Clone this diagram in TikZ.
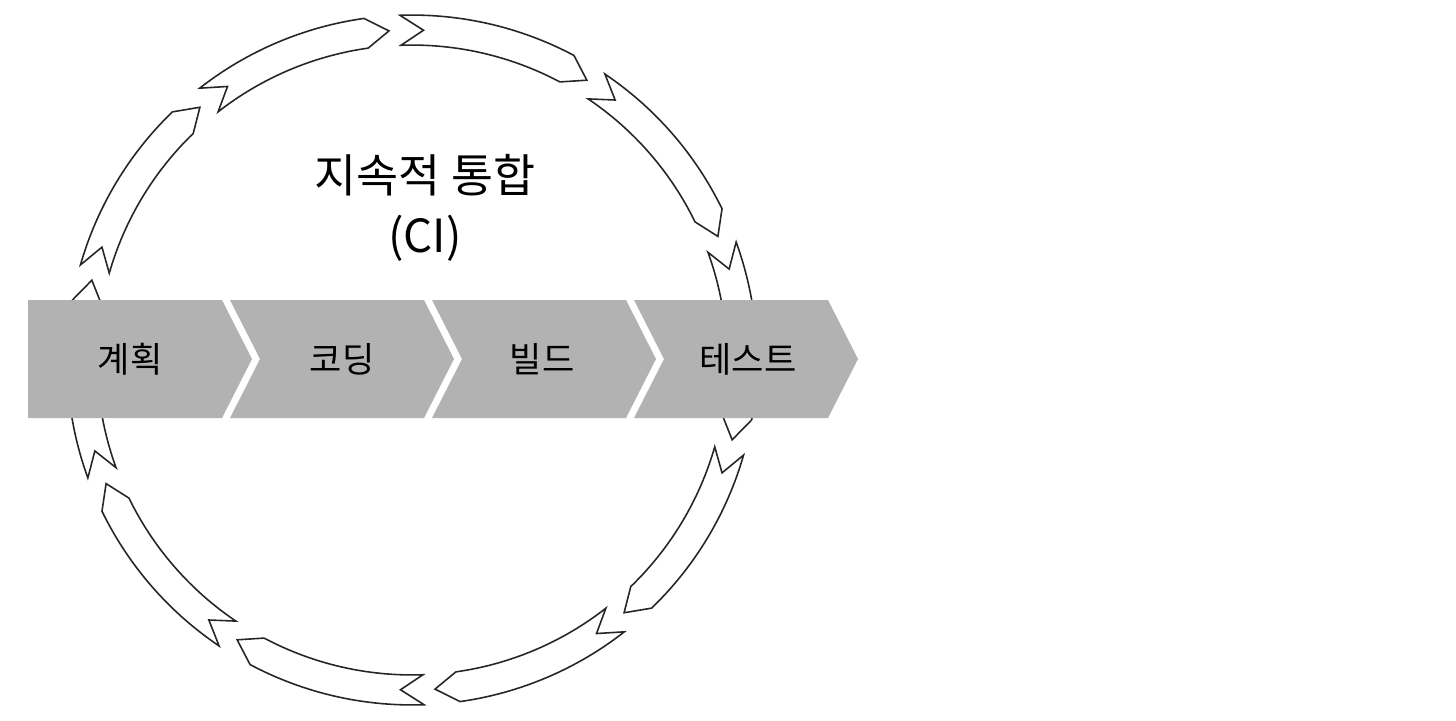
\documentclass[tikz,border=0pt]{standalone}
\usepackage{fontspec}
\setmainfont{Noto Sans CJK KR}
\tikzset{
  ring arrow/.style={draw=black!85, fill=white, line width=0.9pt, line join=miter},
  step shape/.style={fill=black!30, draw=none},
  step label/.style={font=\fontsize{20}{24}\selectfont, text=black}
}
\begin{document}
\begin{tikzpicture}[x=0.02cm, y=-0.02cm]
	\useasboundingbox (0,0) rectangle (1456,720);

	% ring of curved arrows (clockwise)
	\begin{scope}[shift={(412,360)}, x=1cm, y=1cm]
	\foreach \t in {92,56,20,-16,-52,-88,-124,-160,-196,-232} {
		\draw[ring arrow] (\t:6.9) arc[start angle=\t, end angle=\t-30, radius=6.9]
			-- (\t-34:6.6) -- (\t-30:6.3)
			arc[start angle=\t-30, end angle=\t, radius=6.3]
			-- (\t-4:6.6) -- cycle;
	}
	\end{scope}

	% title
	\node[font=\fontsize{26}{34}\selectfont, align=center] (title) at (425,208) {지속적 통합\\(CI)};

	% process steps
	\fill[step shape] (28,300) -- (222,300) -- (252,359) -- (222,418) -- (28,418) -- cycle;
	\foreach \s in {230,432,634}
		\fill[step shape] (\s,300) -- (\s+194,300) -- (\s+224,359) -- (\s+194,418)
			-- (\s,418) -- (\s+30,359) -- cycle;
	\node[step label] (plan) at (130,359) {계획};
	\node[step label] (code) at (342,359) {코딩};
	\node[step label] (build) at (542,359) {빌드};
	\node[step label] (test) at (748,359) {테스트};
\end{tikzpicture}
\end{document}
